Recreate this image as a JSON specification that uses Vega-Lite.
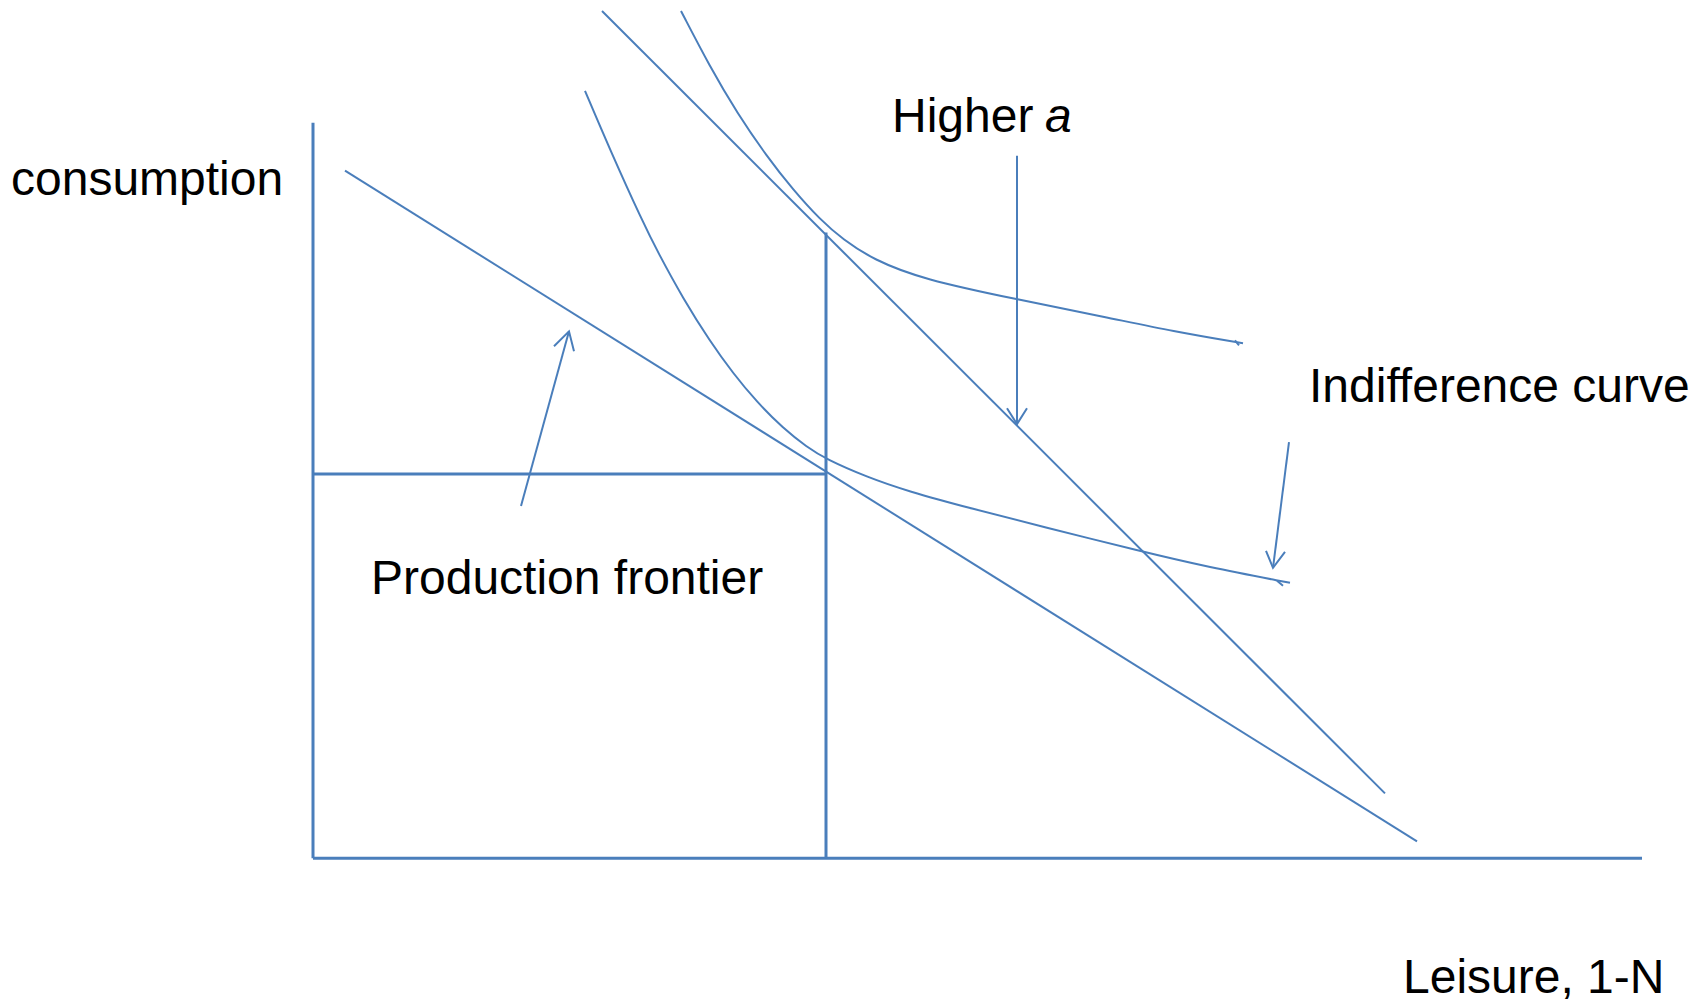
{
  "$schema": "https://vega.github.io/schema/vega-lite/v6.json",
  "width": 1702,
  "height": 1003,
  "autosize": {"type": "fit", "contains": "padding"},
  "padding": 0,
  "background": "white",
  "config": {"view": {"stroke": null}},
  "datasets": {
    "thick": [
      {"id": "yaxis", "o": 0, "x": 0, "y": 7.37},
      {"id": "yaxis", "o": 1, "x": 0, "y": 0},
      {"id": "xaxis", "o": 0, "x": 0, "y": 0},
      {"id": "xaxis", "o": 1, "x": 13.29, "y": 0},
      {"id": "drop", "o": 0, "x": 5.13, "y": 6.27},
      {"id": "drop", "o": 1, "x": 5.13, "y": 0},
      {"id": "hline", "o": 0, "x": 0, "y": 3.85},
      {"id": "hline", "o": 1, "x": 5.13, "y": 3.85}
    ],
    "thin": [
      {"id": "pf", "o": 0, "x": 0.32, "y": 6.89},
      {"id": "pf", "o": 1, "x": 11.04, "y": 0.17},
      {"id": "higher", "o": 0, "x": 2.89, "y": 8.49},
      {"id": "higher", "o": 1, "x": 10.72, "y": 0.65},
      {"id": "arrA", "o": 0, "x": 7.04, "y": 7.04},
      {"id": "arrA", "o": 1, "x": 7.04, "y": 4.35},
      {"id": "headA", "o": 0, "x": 6.94, "y": 4.51},
      {"id": "headA", "o": 1, "x": 7.04, "y": 4.35},
      {"id": "headA", "o": 2, "x": 7.14, "y": 4.51},
      {"id": "arrIC", "o": 0, "x": 9.76, "y": 4.17},
      {"id": "arrIC", "o": 1, "x": 9.60, "y": 2.91},
      {"id": "headIC", "o": 0, "x": 9.53, "y": 3.08},
      {"id": "headIC", "o": 1, "x": 9.60, "y": 2.91},
      {"id": "headIC", "o": 2, "x": 9.72, "y": 3.07},
      {"id": "arrPF", "o": 0, "x": 2.08, "y": 3.53},
      {"id": "arrPF", "o": 1, "x": 2.56, "y": 5.28},
      {"id": "headPF", "o": 0, "x": 2.41, "y": 5.13},
      {"id": "headPF", "o": 1, "x": 2.56, "y": 5.28},
      {"id": "headPF", "o": 2, "x": 2.61, "y": 5.08},
      {"id": "hook1", "o": 0, "x": 9.22, "y": 5.19},
      {"id": "hook1", "o": 1, "x": 9.26, "y": 5.14},
      {"id": "hook2", "o": 0, "x": 9.64, "y": 2.78},
      {"id": "hook2", "o": 1, "x": 9.70, "y": 2.73}
    ],
    "curves": [
      {"id": "ic1", "x": 3.68, "y": 8.49},
      {"id": "ic1", "x": 3.97, "y": 7.93},
      {"id": "ic1", "x": 4.24, "y": 7.47},
      {"id": "ic1", "x": 4.54, "y": 7.03},
      {"id": "ic1", "x": 4.80, "y": 6.70},
      {"id": "ic1", "x": 5.07, "y": 6.40},
      {"id": "ic1", "x": 5.30, "y": 6.20},
      {"id": "ic1", "x": 5.60, "y": 6.00},
      {"id": "ic1", "x": 6.10, "y": 5.80},
      {"id": "ic1", "x": 7.04, "y": 5.60},
      {"id": "ic1", "x": 7.94, "y": 5.42},
      {"id": "ic1", "x": 8.60, "y": 5.28},
      {"id": "ic1", "x": 9.30, "y": 5.16},
      {"id": "ic2", "x": 2.72, "y": 7.69},
      {"id": "ic2", "x": 2.97, "y": 7.10},
      {"id": "ic2", "x": 3.30, "y": 6.37},
      {"id": "ic2", "x": 3.45, "y": 6.07},
      {"id": "ic2", "x": 3.70, "y": 5.61},
      {"id": "ic2", "x": 3.97, "y": 5.18},
      {"id": "ic2", "x": 4.20, "y": 4.86},
      {"id": "ic2", "x": 4.44, "y": 4.57},
      {"id": "ic2", "x": 4.70, "y": 4.31},
      {"id": "ic2", "x": 4.94, "y": 4.12},
      {"id": "ic2", "x": 5.13, "y": 4.00},
      {"id": "ic2", "x": 5.54, "y": 3.82},
      {"id": "ic2", "x": 5.94, "y": 3.68},
      {"id": "ic2", "x": 6.60, "y": 3.50},
      {"id": "ic2", "x": 7.27, "y": 3.33},
      {"id": "ic2", "x": 8.30, "y": 3.07},
      {"id": "ic2", "x": 8.94, "y": 2.92},
      {"id": "ic2", "x": 9.77, "y": 2.76}
    ],
    "labels": [
      {"text": "consumption", "x": -3.02, "y": 6.65},
      {"text": "Higher", "x": 5.79, "y": 7.28},
      {"text": "Indifference curve", "x": 9.96, "y": 4.57},
      {"text": "Production frontier", "x": 0.58, "y": 2.65},
      {"text": "Leisure, 1-N", "x": 10.90, "y": -1.35}
    ],
    "italic": [
      {"text": "a", "x": 7.32, "y": 7.28}
    ]
  },
  "encoding": {
    "x": {"field": "x", "type": "quantitative", "scale": {"domain": [-3.13, 13.89], "nice": false, "zero": false}, "axis": null},
    "y": {"field": "y", "type": "quantitative", "scale": {"domain": [-1.43, 8.6], "nice": false, "zero": false}, "axis": null}
  },
  "layer": [
    {
      "data": {"name": "thick"},
      "mark": {"type": "line", "color": "#4a7ebb", "strokeWidth": 3, "strokeCap": "butt"},
      "encoding": {"detail": {"field": "id"}, "order": {"field": "o"}}
    },
    {
      "data": {"name": "thin"},
      "mark": {"type": "line", "color": "#4a7ebb", "strokeWidth": 2, "strokeCap": "butt"},
      "encoding": {"detail": {"field": "id"}, "order": {"field": "o"}}
    },
    {
      "data": {"name": "curves"},
      "mark": {"type": "line", "color": "#4a7ebb", "strokeWidth": 2, "interpolate": "basis"},
      "encoding": {"detail": {"field": "id"}, "order": {"field": "x"}}
    },
    {
      "data": {"name": "labels"},
      "mark": {"type": "text", "font": "Liberation Sans", "fontSize": 48, "color": "black", "align": "left", "baseline": "alphabetic"},
      "encoding": {"text": {"field": "text"}}
    },
    {
      "data": {"name": "italic"},
      "mark": {"type": "text", "font": "Liberation Sans", "fontSize": 48, "fontStyle": "italic", "color": "black", "align": "left", "baseline": "alphabetic"},
      "encoding": {"text": {"field": "text"}}
    }
  ]
}
